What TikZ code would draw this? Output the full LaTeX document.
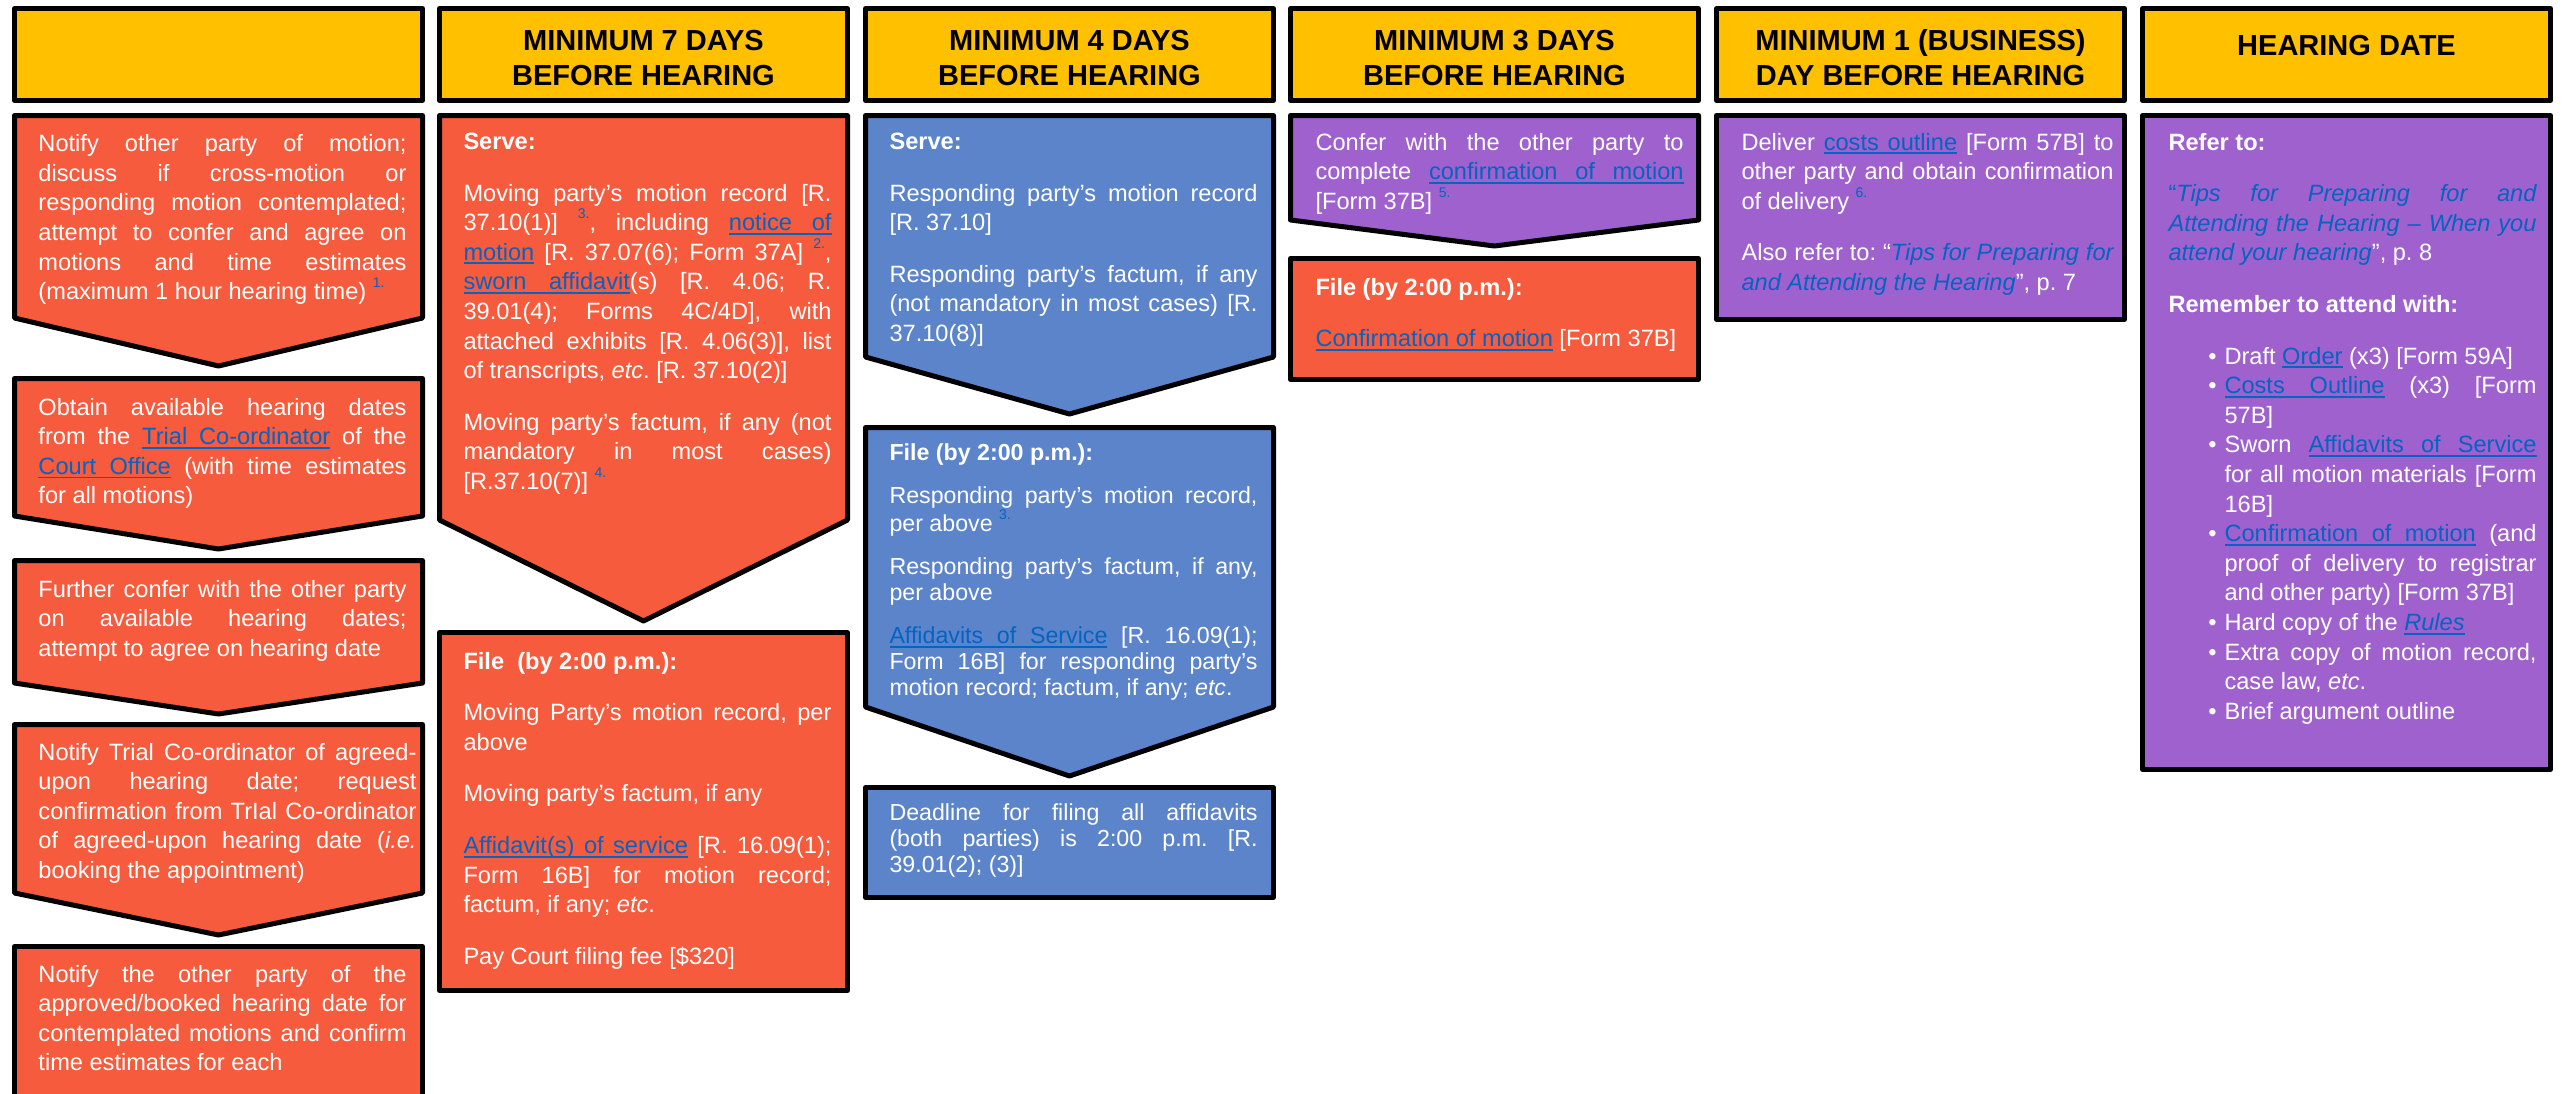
\documentclass[tikz,border=0pt]{standalone}
\usepackage{fontspec}
\setmainfont{Liberation Sans}[WordSpace={1,1,0}]
\usepackage{xcolor}
\usepackage{tikz}

\definecolor{gold}{HTML}{FFC000}
\definecolor{tomato}{HTML}{F55B3C}
\definecolor{cornflower}{HTML}{5B84CA}
\definecolor{lilac}{HTML}{9F61CE}
\definecolor{linkblue}{HTML}{0563C1}
\newcommand\ulbox[1]{\leavevmode\setbox0\hbox{#1}\rlap{\rule[-2pt]{\wd0}{0.9pt}}\box0}
\newcommand\ulskip{\leaders\hrule height -1.1pt depth 2pt\hskip\fontdimen2\font plus\fontdimen3\font minus\fontdimen4\font}
\def\lnkwords#1 #2\relax{\ulbox{#1}\ifx\relax#2\relax\else\ulskip\lnkwords#2\relax\fi}
\newcommand\lnk[1]{{\color{linkblue}\lnkwords#1 \relax}}
\newcommand\fnmark[1]{{\color{linkblue}\raisebox{0.5em}{\fontsize{7}{7}\selectfont #1}}}
\newcommand\gap[1][11pt]{\par\vspace{#1}}
\newcommand\nl{\linebreak{}}
\newcommand\itm{\par\hangindent=28pt\hangafter=0\noindent\llap{\textbullet\hspace{4pt}}}
\newcommand\chev[5]{\draw[#1] (#2,#3) -- ({#2+408},#3) -- ({#2+408},#4) -- ({#2+204},#5) -- (#2,#4) -- cycle;}
\newcommand\blk[4]{\draw[#1] (#2,#3) rectangle ({#2+408},#4);}
\tolerance=9999
\hyphenpenalty=10000
\emergencystretch=1em
\frenchspacing

\begin{document}
\begin{tikzpicture}[x=0.5pt,y=-0.5pt,line width=2.5pt,line join=round,
  hdrbox/.style={draw=black,fill=gold},
  redbox/.style={draw=black,fill=tomato},
  bluebox/.style={draw=black,fill=cornflower},
  lilacbox/.style={draw=black,fill=lilac},
  hdrtxt/.style={anchor=north,inner sep=0pt,align=center,font=\fontsize{14.5}{17.5}\selectfont\bfseries},
  txt/.style={anchor=north west,inner sep=0pt,text width=184pt,align=justify,text=white,font=\fontsize{11.8}{14.8}\selectfont},
  smalltxt/.style={txt,font=\fontsize{11.6}{13}\selectfont}]
\useasboundingbox (0,0) rectangle (2567,1093);
\fill[white] (0,0) rectangle (2567,1093);
\clip (0,0) rectangle (2567,1093);

\foreach \c in {14.5,439.5,865.5,1290.5,1716.5,2142.5}
  \draw[hdrbox] (\c,8.5) rectangle ({\c+408},100.5);
\node[hdrtxt] (h2) at (643.5,28) {MINIMUM 7 DAYS\\BEFORE HEARING};
\node[hdrtxt] (h3) at (1069.5,28) {MINIMUM 4 DAYS\\BEFORE HEARING};
\node[hdrtxt] (h4) at (1494.5,28) {MINIMUM 3 DAYS\\BEFORE HEARING};
\node[hdrtxt] (h5) at (1920.5,27) {MINIMUM 1 (BUSINESS)\\DAY BEFORE HEARING};
\node[hdrtxt] (h6) at (2346.5,33) {HEARING DATE};

\chev{redbox}{14.5}{115.5}{318}{366}
\chev{redbox}{14.5}{378.5}{516}{549}
\chev{redbox}{14.5}{560.5}{683}{714}
\chev{redbox}{14.5}{724.5}{893}{935}
\blk{redbox}{14.5}{946.5}{1110}
\chev{redbox}{439.5}{115.5}{520}{621}
\blk{redbox}{439.5}{632.5}{990.5}
\chev{bluebox}{865.5}{115.5}{357}{414}
\chev{bluebox}{865.5}{427.5}{707}{776}
\blk{bluebox}{865.5}{787.5}{897.5}
\chev{lilacbox}{1290.5}{115.5}{220}{246}
\blk{redbox}{1290.5}{258.5}{379.5}
\blk{lilacbox}{1716.5}{115.5}{319.5}
\blk{lilacbox}{2142.5}{115.5}{769.5}

\node[txt] (notify) at (36,132) {Notify other party of motion;\nl discuss if cross-motion or\nl responding motion contemplated;\nl attempt to confer and agree on\nl motions and time estimates\nl (maximum 1 hour hearing time)~\fnmark{1.}};
\node[txt] (obtain) at (36,395.5) {Obtain available hearing dates\nl from the \lnk{Trial Co-ordinator} of the\nl \lnk{Court Office} (with time estimates\nl for all motions)};
\node[txt] (confer) at (36,577.5) {Further confer with the other party\nl on available hearing dates;\nl attempt to agree on hearing date};
\node[txt,text width=189pt] (book) at (36,740.5) {Notify Trial Co-ordinator of agreed-\nl upon hearing date; request\nl confirmation from TrIal Co-ordinator\nl of agreed-upon hearing date (\textit{i.e.}\nl booking the appointment)};
\node[txt] (tell) at (36,962.5) {Notify the other party of the\nl approved/booked hearing date for\nl contemplated motions and confirm\nl time estimates for each};

\node[txt] (serve7) at (461,130.5) {\textbf{Serve:}\gap Moving party’s motion record [R.\nl 37.10(1)]~\fnmark{3.}, including \lnk{notice of}\nl \lnk{motion} [R. 37.07(6); Form 37A]~\fnmark{2.},\nl \lnk{sworn affidavit}(s) [R. 4.06; R.\nl 39.01(4); Forms 4C/4D], with\nl attached exhibits [R. 4.06(3)], list\nl of transcripts, \textit{etc}. [R. 37.10(2)]\gap Moving party’s factum, if any (not\nl mandatory in most cases)\nl [R.37.10(7)]~\fnmark{4.}};
\node[txt] (file7) at (461,649.5) {\textbf{File~~(by 2:00 p.m.):}\gap Moving Party’s motion record, per\nl above\gap Moving party’s factum, if any\gap \lnk{Affidavit(s) of service} [R. 16.09(1);\nl Form 16B] for motion record;\nl factum, if any; \textit{etc}.\gap Pay Court filing fee [\$320]};

\node[txt] (serve4) at (887,130.5) {\textbf{Serve:}\gap Responding party’s motion record\nl [R. 37.10]\gap Responding party’s factum, if any\nl (not mandatory in most cases) [R.\nl 37.10(8)]};
\node[smalltxt] (file4) at (887,441) {\textbf{File (by 2:00 p.m.):}\gap[8.5pt] Responding party’s motion record,\nl per above~\fnmark{3.}\gap[8.5pt] Responding party’s factum, if any,\nl per above\gap[8.5pt] \lnk{Affidavits of Service} [R. 16.09(1);\nl Form 16B] for responding party’s\nl motion record; factum, if any; \textit{etc}.};
\node[smalltxt] (deadline) at (887,801) {Deadline for filing all affidavits\nl (both parties) is 2:00 p.m. [R.\nl 39.01(2); (3)]};

\node[txt] (confirm3) at (1313,130.5) {Confer with the other party to\nl complete \lnk{confirmation of motion}\nl [Form 37B]~\fnmark{5.}};
\node[txt] (file3) at (1313,275.5) {\textbf{File (by 2:00 p.m.):}\gap \lnk{Confirmation of motion} [Form 37B]};

\node[txt,text width=186pt] (costs1) at (1739,130.5) {Deliver \lnk{costs outline} [Form 57B] to\nl other party and obtain confirmation\nl of delivery~\fnmark{6.}\gap Also refer to: “{\color{linkblue}\itshape Tips for Preparing for\nl and Attending the Hearing}”, p.~7};

\node[txt] (hearing) at (2166,130.5) {\textbf{Refer to:}\gap {\color{linkblue}“\itshape Tips for Preparing for and\nl Attending the Hearing – When you\nl attend your hearing}”, p.~8\gap
\textbf{Remember to attend with:}\gap
\itm Draft \lnk{Order} (x3) [Form 59A]
\itm \lnk{Costs Outline} (x3) [Form\nl 57B]
\itm Sworn \lnk{Affidavits of Service}\nl for all motion materials [Form\nl 16B]
\itm \lnk{Confirmation of motion} (and\nl proof of delivery to registrar\nl and other party) [Form 37B]
\itm Hard copy of the \lnk{\textit{Rules}}
\itm Extra copy of motion record,\nl case law, \textit{etc}.
\itm Brief argument outline\par};
\end{tikzpicture}
\end{document}
